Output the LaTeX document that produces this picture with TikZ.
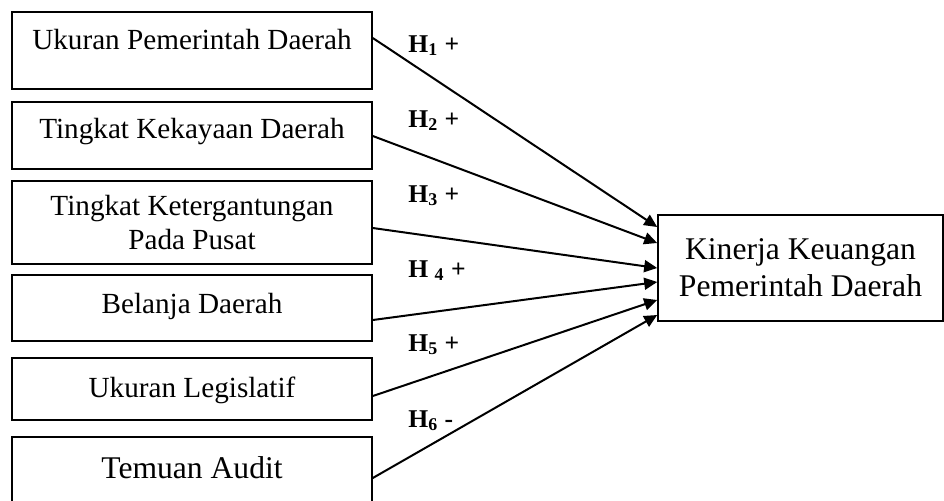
\documentclass[tikz,border=0pt]{standalone}
\usepackage{fontspec}
\setmainfont{Liberation Serif}
\usepackage{tikz}
\usetikzlibrary{arrows.meta}

\begin{document}
\begin{tikzpicture}[
  x=0.5pt, y=-0.5pt,
  var/.style={rectangle, draw, line width=0.8pt, minimum width=180pt, inner sep=0pt, align=center, font=\fontsize{14.6}{17}\selectfont},
  dep/.style={rectangle, draw, line width=0.8pt, minimum width=142.5pt, minimum height=53pt, inner sep=0pt, align=center, font=\fontsize{15.8}{18.5}\selectfont},
  hyp/.style={anchor=base west, inner sep=0pt, font=\fontsize{12.8}{15}\selectfont\bfseries},
  path/.style={draw, line width=1pt, -{Triangle[length=6.5pt, width=6pt]}}
]
  \useasboundingbox (0,0) rectangle (944,500);

  % Independent variables
  \node[var, minimum height=38.5pt, text height=8pt, text depth=9.5pt] (size) at (192, 50.5) {Ukuran Pemerintah Daerah};
  \node[var, minimum height=33.5pt, text height=8pt, text depth=5.5pt] (wealth) at (192, 135.5) {Tingkat Kekayaan Daerah};
  \node[var, minimum height=41.5pt] (depend) at (192, 222.5) {Tingkat Ketergantungan\\Pada Pusat};
  \node[var, minimum height=33pt, text height=8pt, text depth=3pt] (spend) at (192, 308) {Belanja Daerah};
  \node[var, minimum height=31pt, text height=10pt, text depth=2pt] (legis) at (192, 389) {Ukuran Legislatif};
  \node[var, minimum height=33pt, text height=11pt, text depth=3pt, font=\fontsize{15.8}{18.5}\selectfont] (audit) at (192, 470) {Temuan Audit};

  % Dependent variable
  \node[dep] (perf) at (800.5, 268) {Kinerja Keuangan\\Pemerintah Daerah};

  % Hypotheses
  \node[hyp] (h1) at (408, 52) {H\textsubscript{1} +};
  \node[hyp] (h2) at (408, 127) {H\textsubscript{2} +};
  \node[hyp] (h3) at (408, 202) {H\textsubscript{3} +};
  \node[hyp] (h4) at (408, 277) {H \textsubscript{4} +};
  \node[hyp] (h5) at (408, 351) {H\textsubscript{5} +};
  \node[hyp] (h6) at (408, 427) {H\textsubscript{6} -};

  % Arrows
  \path[path] ([yshift=6.25pt]size.east) -- ([yshift=20.5pt]perf.west);
  \path[path] ([yshift=-0.25pt]wealth.east) -- ([yshift=12.5pt]perf.west);
  \path[path] ([yshift=-2.75pt]depend.east) -- (perf.west);
  \path[path] ([yshift=-6pt]spend.east) -- ([yshift=-7pt]perf.west);
  \path[path] ([yshift=-3.5pt]legis.east) -- ([yshift=-16pt]perf.west);
  \path[path] ([yshift=-4pt]audit.east) -- ([yshift=-23.5pt]perf.west);
\end{tikzpicture}
\end{document}
